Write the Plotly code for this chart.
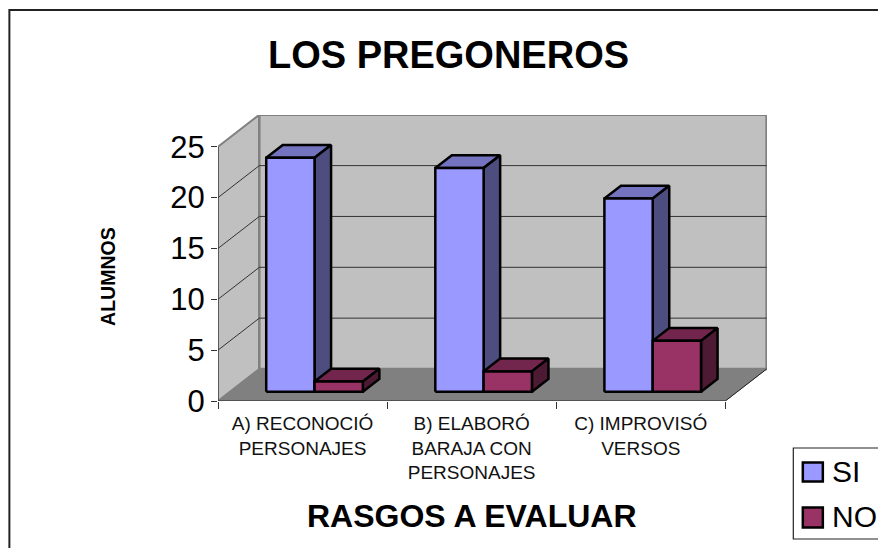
import plotly.graph_objects as go

# values
categories = ["A) RECONOCIÓ<br>PERSONAJES", "B) ELABORÓ<br>BARAJA CON<br>PERSONAJES", "C) IMPROVISÓ<br>VERSOS"]
si_values = [23, 22, 19]
no_values = [1, 2, 5]
y_ticks = [0, 5, 10, 15, 20, 25]

WIDTH, HEIGHT = 878, 548
LEFT, RIGHT, TOP, BOTTOM = 218, 766.7, 115, 401
CAT_PX = 169.0
UNIT_PX = 10.17

# oblique projection of the 3d box, in axis units
DX = 41.3 / CAT_PX
DY = 32 / UNIT_PX
YMAX = 25
N = len(categories)
GAP = 1.5
BAR_W = 1 / (2 + GAP)
D0, D1 = 0.29, 0.69


def proj(x, v, d):
    return x + d * DX, v + d * DY


def poly(fig, pts, fill, line_color, line_width):
    xs = [p[0] for p in pts]
    ys = [p[1] for p in pts]
    fig.add_trace(go.Scatter(x=xs, y=ys, mode="lines", fill="toself" if fill else "none",
                             fillcolor=fill, line=dict(color=line_color, width=line_width),
                             hoverinfo="skip", showlegend=False))


def bar3d(fig, x0, x1, v, front, top, side):
    a = proj(x0, 0, D0)
    b = proj(x1, 0, D0)
    c = proj(x1, v, D0)
    d = proj(x0, v, D0)
    poly(fig, [d, c, proj(x1, v, D1), proj(x0, v, D1), d], top, "black", 2.5)
    poly(fig, [b, proj(x1, 0, D1), proj(x1, v, D1), c, b], side, "black", 2.5)
    poly(fig, [a, b, c, d, a], front, "black", 2.5)


fig = go.Figure()

# walls and floor
poly(fig, [proj(0, 0, 0), proj(0, 0, 1), proj(0, YMAX, 1), proj(0, YMAX, 0), proj(0, 0, 0)], "#C0C0C0", "#808080", 2)
poly(fig, [proj(0, 0, 1), proj(N, 0, 1), proj(N, YMAX, 1), proj(0, YMAX, 1), proj(0, 0, 1)], "#C0C0C0", "#808080", 2.5)
poly(fig, [proj(0, 0, 0), proj(N, 0, 0), proj(N, 0, 1), proj(0, 0, 1), proj(0, 0, 0)], "#808080", "#808080", 1)

# gridlines
for v in y_ticks[1:-1]:
    pts = [proj(0, v, 0), proj(0, v, 1), proj(N, v, 1)]
    poly(fig, pts, None, "#333333", 1)

# axis lines
poly(fig, [proj(0, 0, 0), proj(0, YMAX, 0)], None, "#333333", 1)
poly(fig, [proj(0, 0, 0), proj(N, 0, 0), proj(N, 0, 1)], None, "#222222", 1)

for i in range(N):
    x0 = i + GAP * BAR_W / 2
    bar3d(fig, x0, x0 + BAR_W, si_values[i], "#9999FF", "#7373BF", "#4D4D80")
    bar3d(fig, x0 + BAR_W, x0 + 2 * BAR_W, no_values[i], "#993366", "#73264D", "#4D1A33")

fig.update_xaxes(range=[0, (RIGHT - LEFT) / CAT_PX], tickvals=[i + 0.5 for i in range(N)], ticktext=categories,
                 ticks="", showgrid=False, zeroline=False, showline=False,
                 tickfont=dict(family="Liberation Sans", size=19, color="#111111"), tickangle=0,
                 ticklabelstandoff=9,
                 minor=dict(tickmode="array", tickvals=list(range(N + 1)), ticks="outside", ticklen=7,
                            tickcolor="#333333", tickwidth=1, showgrid=False),
                 title=dict(text=""))
fig.update_yaxes(range=[0, (BOTTOM - TOP) / UNIT_PX], tickvals=y_ticks, ticks="outside", ticklen=6,
                 tickcolor="#333333", showgrid=False, zeroline=False, showline=False,
                 tickfont=dict(family="Liberation Sans", size=31, color="black"))

font = "Liberation Sans"


def px_x(x):
    return (x - LEFT) / (RIGHT - LEFT)


def px_y(y):
    return (BOTTOM - y) / (BOTTOM - TOP)


shapes = [
    dict(type="rect", xref="paper", yref="paper", x0=px_x(9.5), x1=px_x(890), y0=px_y(560), y1=px_y(10),
         line=dict(color="#222222", width=2), layer="below"),
    # legend box
    dict(type="rect", xref="paper", yref="paper", x0=px_x(793), x1=px_x(890), y0=px_y(539), y1=px_y(448),
         fillcolor="white", line=dict(color="#222222", width=1.2)),
    dict(type="rect", xref="paper", yref="paper", x0=px_x(802.5), x1=px_x(822.5), y0=px_y(481.5), y1=px_y(462.5),
         fillcolor="#9999FF", line=dict(color="black", width=2.5)),
    dict(type="rect", xref="paper", yref="paper", x0=px_x(802.5), x1=px_x(822.5), y0=px_y(527.5), y1=px_y(507.5),
         fillcolor="#993366", line=dict(color="black", width=2.5)),
]


def text(s, x, y, size, bold=False, angle=0, anchor="center"):
    return dict(text="<b>%s</b>" % s if bold else s, xref="paper", yref="paper", x=px_x(x), y=px_y(y),
                xanchor=anchor, yanchor="middle", showarrow=False, textangle=angle,
                font=dict(family=font, size=size, color="black"))


annotations = [
    text("LOS PREGONEROS", 448.5, 55, 38, bold=True),
    text("RASGOS A EVALUAR", 471.5, 516, 32, bold=True),
    text("ALUMNOS", 108, 276, 19.5, bold=True, angle=-90),
    text("SI", 829.5, 471.5, 30, anchor="left"),
    text("NO", 829.5, 516.5, 30, anchor="left"),
]

fig.update_layout(width=WIDTH, height=HEIGHT, autosize=False, showlegend=False,
                  margin=dict(l=LEFT, r=WIDTH - RIGHT, t=TOP, b=HEIGHT - BOTTOM, pad=0),
                  plot_bgcolor="white", paper_bgcolor="white", shapes=shapes, annotations=annotations)
fig.write_html("out.html", config=dict(displayModeBar=False), post_script="document.body.style.margin='0';")
